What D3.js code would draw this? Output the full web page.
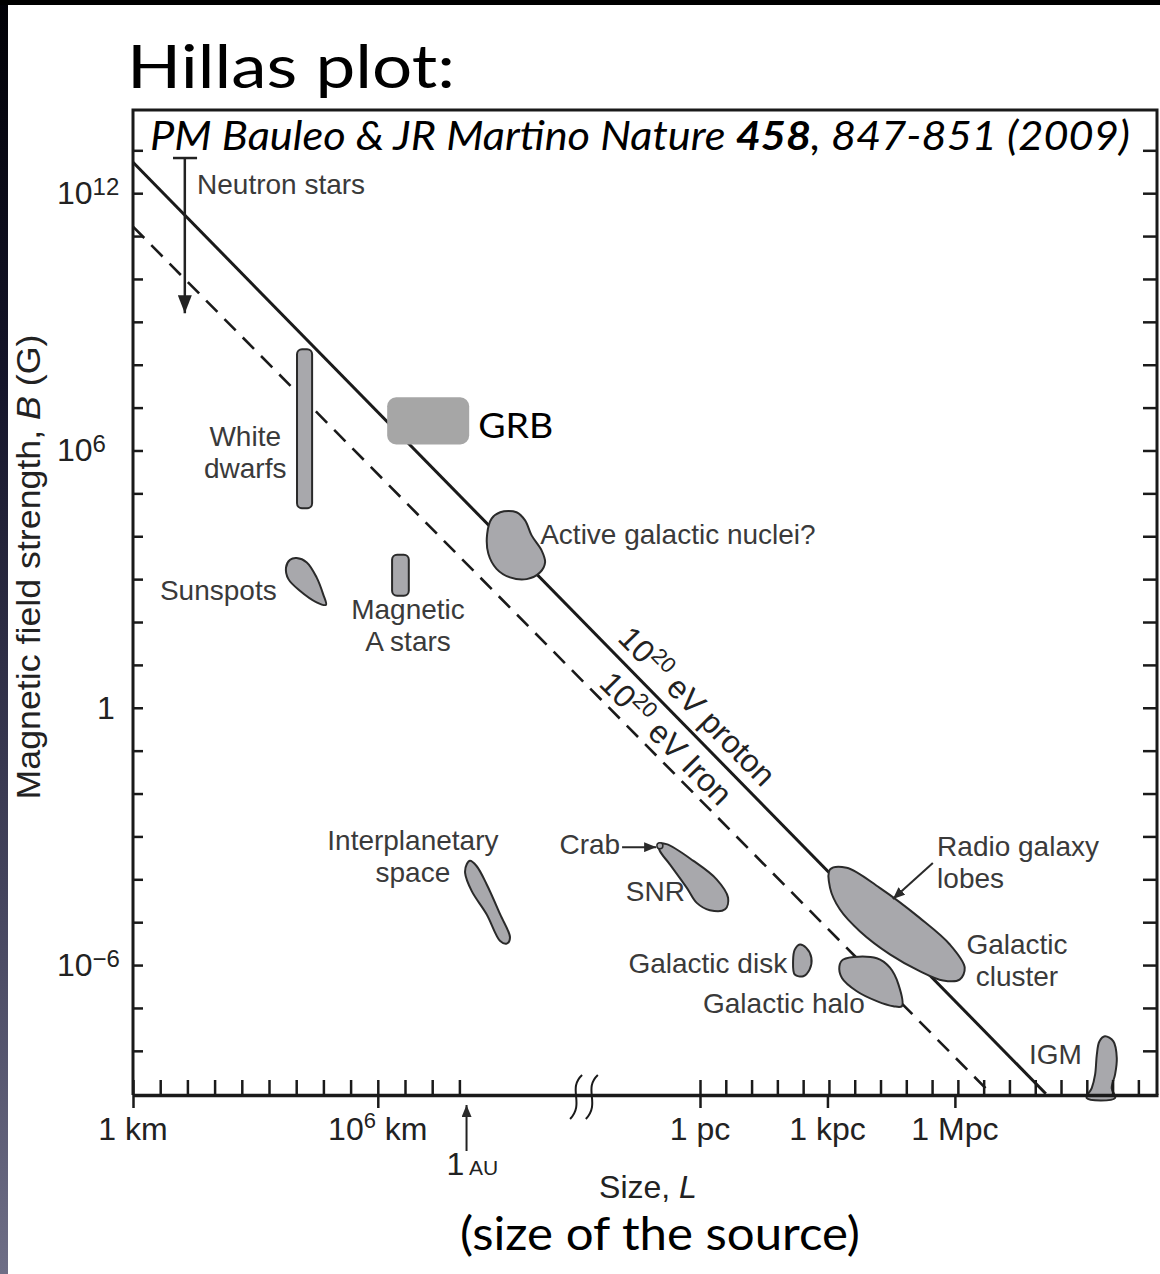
<!DOCTYPE html>
<html>
<head>
<meta charset="utf-8">
<script src="https://cdn.jsdelivr.net/npm/d3@7"></script>
<style>
body { margin: 0; background: #fff; }
svg text { font-family: "Liberation Sans", Arial, sans-serif; }
.hum { font-family: Lato, "Open Sans", sans-serif; }
</style>
</head>
<body>
<script>
width = 1160
height = 1274
margin = ({top: 110, right: 2, bottom: 179, left: 133})

// all regions are in log10(size / km) and log10(B / gauss)
var protonLine = [[0, 12.72], [21.63, -9]];
var ironLine = [[0, 11.22], [20.34, -9]];

var whiteDwarfs = [[4.02, 8.36], [4.39, 4.65]];
var magneticAStars = [[6.35, 3.57], [6.76, 2.61]];
var grbBox = [[6.23, 7.24], [8.24, 6.14]];

var sunspots = [[4.01, 3.49], [4.26, 3.39], [4.50, 3.04], [4.66, 2.65], [4.73, 2.40], [4.50, 2.46],
  [4.09, 2.73], [3.81, 3.00], [3.75, 3.27], [3.85, 3.45]];
var agn = [[9.00, 4.56], [9.40, 4.56], [9.61, 4.37], [9.77, 4.02], [10.02, 3.66], [10.10, 3.39],
  [9.98, 3.16], [9.65, 3.00], [9.24, 3.04], [8.91, 3.24], [8.71, 3.59], [8.68, 4.05], [8.79, 4.41]];
var interplanetary = [[8.26, -3.57], [8.42, -3.69], [8.67, -4.12], [9.00, -4.82], [9.24, -5.36], [9.16, -5.50],
  [9.00, -5.44], [8.67, -4.82], [8.30, -4.27], [8.14, -3.85], [8.18, -3.65]];
var snr = [[12.61, -3.18], [12.78, -3.18], [13.35, -3.57], [13.88, -4.00], [14.15, -4.43], [14.08, -4.70],
  [13.72, -4.72], [13.42, -4.55], [13.21, -4.20], [12.85, -3.65], [12.64, -3.34]];
var galacticDisk = [[15.84, -5.52], [15.99, -5.60], [16.11, -5.83], [16.07, -6.10], [15.92, -6.26],
  [15.72, -6.22], [15.68, -5.91], [15.72, -5.64]];
var galacticHalo = [[16.86, -5.87], [17.65, -5.84], [17.96, -6.06], [18.16, -6.45], [18.24, -6.96],
  [18.04, -6.96], [17.65, -6.84], [17.18, -6.61], [16.83, -6.30], [16.77, -6.03]];
var radioLobes = [[16.55, -3.77], [16.94, -3.73], [17.72, -4.20], [18.66, -4.90], [19.37, -5.52], [19.72, -6.06],
  [19.60, -6.34], [19.21, -6.36], [18.66, -6.14], [17.96, -5.75], [17.25, -5.21], [16.78, -4.70], [16.55, -4.20]];
var igm = [[23.02, -7.66], [23.22, -7.78], [23.30, -8.17], [23.26, -8.55], [23.18, -8.87], [23.26, -9.10],
  [22.59, -9.10], [22.71, -8.87], [22.79, -8.55], [22.83, -8.09], [22.89, -7.78]];

var crab = [12.64, -3.22];
var neutronStars = {x: 1.27, top: 12.82, bottom: 9.2, capL: 0.98, capR: 1.57};

// axis ticks
var yDecades = d3.range(-8, 14);
var yLabelDecades = [12, 6, 0, -6];
var yLabelText = [["10", "12"], ["10", "6"], ["1", ""], ["10", "\u22126"]];
var xMajor = [0, 6, 13.489, 16.489, 19.489];
var xMajorText = [["1 km", ""], ["10", "6", " km"], ["1 pc"], ["1 kpc"], ["1 Mpc"]];
var xMinor = d3.range(0, 8.1, 2 / 3).concat(d3.range(13.489, 23.9, 0.607));
var auValue = 8.175;
var breakAt = [10.86, 11.2];

var blobs = [sunspots, agn, interplanetary, snr, galacticDisk, galacticHalo, radioLobes, igm];

var labels = [
  {t: ["Neutron stars"], at: [1.57, 11.98], a: "start"},
  {t: ["White", "dwarfs"], at: [2.75, 6.05], a: "middle"},
  {t: ["Sunspots"], at: [0.66, 2.52], a: "start"},
  {t: ["Magnetic", "A stars"], at: [6.74, 2.03], a: "middle"},
  {t: ["Active galactic nuclei?"], at: [9.98, 3.83], a: "start"},
  {t: ["Interplanetary", "space"], at: [6.86, -3.36], a: "middle"},
  {t: ["Crab"], at: [11.80, -3.41], a: "end"},
  {t: ["SNR"], at: [11.92, -4.51], a: "start"},
  {t: ["Galactic disk"], at: [15.54, -6.19], a: "end"},
  {t: ["Galactic halo"], at: [17.37, -7.12], a: "end"},
  {t: ["Radio galaxy", "lobes"], at: [19.07, -3.50], a: "start"},
  {t: ["Galactic", "cluster"], at: [20.95, -5.79], a: "middle"},
  {t: ["IGM"], at: [22.48, -8.31], a: "end"}
];

// x is piecewise: the axis is broken between 1 AU and 1 pc
x = d3.scaleLinear()
  .domain([0, 10.907, 13.489, 24.27])
  .range([margin.left, 578, 700, width - margin.right])

y = d3.scaleLog()
  .domain([Math.pow(10, -9.03), Math.pow(10, 13.94)])
  .range([height - margin.bottom, margin.top])

var P = d => [x(d[0]), y(Math.pow(10, d[1]))];

const svg = d3.select("body").append("svg")
    .attr("width", width)
    .attr("height", height)
    .attr("viewBox", [0, 0, width, height]);

const defs = svg.append("defs");
const grad = defs.append("linearGradient").attr("id", "edge")
    .attr("x1", 0).attr("y1", 0).attr("x2", 0).attr("y2", 1);
[[0, "#010106"], [0.3, "#15152a"], [0.7, "#44445d"], [1, "#6e6e86"]].forEach(s =>
  grad.append("stop").attr("offset", s[0]).attr("stop-color", s[1]));

defs.append("marker").attr("id", "head")
    .attr("markerUnits", "userSpaceOnUse")
    .attr("viewBox", "0 0 12 10").attr("refX", 12).attr("refY", 5)
    .attr("markerWidth", 12).attr("markerHeight", 10).attr("orient", "auto")
  .append("path").attr("d", "M0,0L12,5L0,10z").attr("fill", "#2a2a2a");
defs.append("marker").attr("id", "bighead")
    .attr("markerUnits", "userSpaceOnUse")
    .attr("viewBox", "0 0 18 14").attr("refX", 18).attr("refY", 7)
    .attr("markerWidth", 18).attr("markerHeight", 14).attr("orient", "auto")
  .append("path").attr("d", "M0,0L18,7L0,14z").attr("fill", "#222");

// page frame
svg.append("rect").attr("width", width).attr("height", height).attr("fill", "#fff");
svg.append("rect").attr("width", 8).attr("height", height).attr("fill", "url(#edge)");
svg.append("rect").attr("width", width).attr("height", 5).attr("fill", "#000");

svg.append("text").attr("class", "hum")
    .attr("x", 127).attr("y", 88)
    .attr("font-size", 60).attr("fill", "#000")
    .attr("textLength", 328).attr("lengthAdjust", "spacingAndGlyphs")
    .text("Hillas plot:");

// plot box
var y0 = y.range()[0];
svg.append("path")
    .attr("d", `M${x(0)},${y0}V${margin.top}H${width - margin.right - 1}V${y0}`)
    .attr("fill", "none").attr("stroke", "#1a1a1a").attr("stroke-width", 3);

const cite = svg.append("text").attr("class", "hum")
    .attr("x", 150).attr("y", 150)
    .attr("font-size", 41).attr("font-style", "italic").attr("fill", "#000")
    .attr("textLength", 980).attr("lengthAdjust", "spacingAndGlyphs");
cite.append("tspan").text("PM Bauleo & JR Martino Nature ");
cite.append("tspan").attr("font-weight", "bold").text("458");
cite.append("tspan").text(", 847-851 (2009)");

// Hillas lines
var line = d3.line().x(d => P(d)[0]).y(d => P(d)[1]);
svg.append("path").datum(protonLine).attr("d", line)
    .attr("fill", "none").attr("stroke", "#1a1a1a").attr("stroke-width", 3);
svg.append("path").datum(ironLine).attr("d", line)
    .attr("fill", "none").attr("stroke", "#1a1a1a").attr("stroke-width", 2.6)
    .attr("stroke-dasharray", "16,10");

function along(l, t) {
  var p0 = P(l[0]), p1 = P(l[1]);
  return [p0[0] + t * (p1[0] - p0[0]), p0[1] + t * (p1[1] - p0[1]),
    Math.atan2(p1[1] - p0[1], p1[0] - p0[0]) * 180 / Math.PI];
}
[[protonLine, 0.521, -11, " eV proton"], [ironLine, 0.535, -8, " eV Iron"]].forEach(d => {
  var p = along(d[0], d[1]);
  var t = svg.append("text")
      .attr("transform", `translate(${p[0]},${p[1]}) rotate(${p[2]})`)
      .attr("y", d[2]).attr("font-size", 32).attr("fill", "#222");
  t.append("tspan").text("10");
  t.append("tspan").attr("dy", -12).attr("font-size", 22).text("20");
  t.append("tspan").attr("dy", 12).text(d[3]);
});

// source regions
var blobLine = d3.line().x(d => P(d)[0]).y(d => P(d)[1]).curve(d3.curveCatmullRomClosed.alpha(0.5));
svg.append("g")
    .attr("fill", "#a8a8ac").attr("stroke", "#2a2a2a").attr("stroke-width", 2)
  .selectAll("path")
  .data(blobs).enter()
  .append("path")
    .attr("d", blobLine);

svg.append("g")
    .attr("fill", "#a8a8ac").attr("stroke", "#2a2a2a").attr("stroke-width", 2)
  .selectAll("rect")
  .data([whiteDwarfs, magneticAStars]).enter()
  .append("rect")
    .attr("x", d => x(d[0][0]))
    .attr("y", d => y(Math.pow(10, d[0][1])))
    .attr("width", d => x(d[1][0]) - x(d[0][0]))
    .attr("height", d => y(Math.pow(10, d[1][1])) - y(Math.pow(10, d[0][1])))
    .attr("rx", 5);

svg.append("rect")
    .attr("x", x(grbBox[0][0]))
    .attr("y", y(Math.pow(10, grbBox[0][1])))
    .attr("width", x(grbBox[1][0]) - x(grbBox[0][0]))
    .attr("height", y(Math.pow(10, grbBox[1][1])) - y(Math.pow(10, grbBox[0][1])))
    .attr("rx", 9).attr("fill", "#a6a6a6");
svg.append("text").attr("class", "hum")
    .attr("x", x(8.46)).attr("y", y(Math.pow(10, 6.30)))
    .attr("font-size", 34).attr("fill", "#000")
    .attr("textLength", 75).attr("lengthAdjust", "spacingAndGlyphs")
    .text("GRB");

// crab dot and arrows
svg.append("circle")
    .attr("cx", P(crab)[0]).attr("cy", P(crab)[1]).attr("r", 3)
    .attr("fill", "#a8a8ac").attr("stroke", "#2a2a2a").attr("stroke-width", 1.5);
var arrows = [[[11.84, -3.25], [12.56, -3.25]], [[18.97, -3.62], [18.03, -4.46]]];
svg.append("g").selectAll("path")
  .data(arrows).enter()
  .append("path")
    .attr("d", line)
    .attr("stroke", "#2a2a2a").attr("stroke-width", 2).attr("marker-end", "url(#head)");

// neutron stars: upper limit bar
var ns = neutronStars;
svg.append("path")
    .attr("d", line([[ns.capL, ns.top], [ns.capR, ns.top]]))
    .attr("stroke", "#222").attr("stroke-width", 2.5);
svg.append("path")
    .attr("d", line([[ns.x, ns.top], [ns.x, ns.bottom]]))
    .attr("stroke", "#222").attr("stroke-width", 2.5).attr("marker-end", "url(#bighead)");

// region labels
svg.append("g")
    .attr("font-size", 28).attr("fill", "#3a3a3a")
  .selectAll("text")
  .data(labels).enter()
  .append("text")
    .attr("text-anchor", d => d.a)
    .attr("transform", d => `translate(${P(d.at)[0]},${P(d.at)[1]})`)
  .selectAll("tspan")
  .data((d) => d.t.map((s, i) => [s, i, d.t.length])).enter()
  .append("tspan")
    .attr("x", 0).attr("y", d => d[2] > 1 ? d[1] * 32 - 2 : 0)
    .text(d => d[0]);

// axes
var yV = yDecades.map(p => Math.pow(10, p));
svg.append("g")
    .attr("transform", `translate(${margin.left},0)`)
    .call(d3.axisRight(y).tickValues(yV).tickSize(10).tickSizeOuter(0).tickFormat(""))
    .call(g => g.select(".domain").remove())
    .call(g => g.selectAll("line").attr("stroke", "#1a1a1a").attr("stroke-width", 2.5));
svg.append("g")
    .attr("transform", `translate(${width - margin.right - 1},0)`)
    .call(d3.axisLeft(y).tickValues(yV).tickSize(14).tickSizeOuter(0).tickFormat(""))
    .call(g => g.select(".domain").remove())
    .call(g => g.selectAll("line").attr("stroke", "#1a1a1a").attr("stroke-width", 2.5));

svg.append("g")
    .attr("transform", `translate(0,${y0})`)
    .call(d3.axisTop(x).tickValues(xMinor).tickSize(15).tickSizeOuter(0).tickFormat(""))
    .call(g => g.select(".domain").attr("stroke", "#1a1a1a").attr("stroke-width", 3.5))
    .call(g => g.selectAll("line").attr("stroke", "#1a1a1a").attr("stroke-width", 2.5));
svg.append("g")
    .attr("transform", `translate(0,${y0})`)
    .call(d3.axisBottom(x).tickValues(xMajor).tickSize(13).tickSizeOuter(0).tickFormat(""))
    .call(g => g.select(".domain").remove())
    .call(g => g.selectAll("line").attr("stroke", "#1a1a1a").attr("stroke-width", 2.5));

// axis break
svg.append("g").selectAll("path")
  .data(breakAt).enter()
  .append("path")
    .attr("d", d => { var bx = x(d); return `M${bx + 6},${y0 - 20}C${bx - 9},${y0 - 6} ${bx + 9},${y0 + 8} ${bx - 6},${y0 + 24}`; })
    .attr("fill", "none").attr("stroke", "#1a1a1a").attr("stroke-width", 2);

// tick labels
svg.append("g")
    .attr("font-size", 32).attr("fill", "#222")
  .selectAll("text")
  .data(yLabelDecades).enter()
  .append("text")
    .attr("x", (d, i) => yLabelText[i][1] ? 57 : 97)
    .attr("y", d => y(Math.pow(10, d)) + 11)
    .each(function(d, i) {
      var t = d3.select(this);
      t.append("tspan").text(yLabelText[i][0]);
      if (yLabelText[i][1]) t.append("tspan").attr("dy", -9).attr("font-size", 24).text(yLabelText[i][1]);
    });

svg.append("g")
    .attr("font-size", 32).attr("fill", "#222").attr("text-anchor", "middle")
  .selectAll("text")
  .data(xMajor).enter()
  .append("text")
    .attr("x", d => x(d))
    .attr("y", y0 + 45)
    .each(function(d, i) {
      var t = d3.select(this), s = xMajorText[i];
      if (s.length === 3) {
        t.append("tspan").text(s[0]);
        t.append("tspan").attr("dy", -12).attr("font-size", 22).text(s[1]);
        t.append("tspan").attr("dy", 12).text(s[2]);
      } else t.text(s[0]);
    });

// 1 AU marker
svg.append("path")
    .attr("d", `M${x(auValue)},${y0 + 56}V${y0 + 10}`)
    .attr("stroke", "#222").attr("stroke-width", 2).attr("marker-end", "url(#head)");
const au = svg.append("text")
    .attr("x", x(auValue) - 20).attr("y", y0 + 80)
    .attr("font-size", 32).attr("fill", "#222");
au.append("tspan").text("1");
au.append("tspan").attr("font-size", 21).text(" AU");

// axis titles
const yl = svg.append("text")
    .attr("transform", "translate(40,567) rotate(-90)")
    .attr("text-anchor", "middle").attr("font-size", 34).attr("fill", "#222")
    .attr("textLength", 465).attr("lengthAdjust", "spacingAndGlyphs");
yl.append("tspan").text("Magnetic field strength, ");
yl.append("tspan").attr("font-style", "italic").text("B");
yl.append("tspan").text(" (G)");

const xl = svg.append("text")
    .attr("x", 648).attr("y", y0 + 103)
    .attr("text-anchor", "middle").attr("font-size", 32).attr("fill", "#222");
xl.append("tspan").text("Size, ");
xl.append("tspan").attr("font-style", "italic").text("L");

svg.append("text").attr("class", "hum")
    .attr("x", 460).attr("y", 1250)
    .attr("font-size", 46).attr("fill", "#000")
    .attr("textLength", 400).attr("lengthAdjust", "spacingAndGlyphs")
    .text("(size of the source)");
</script>
</body>
</html>
